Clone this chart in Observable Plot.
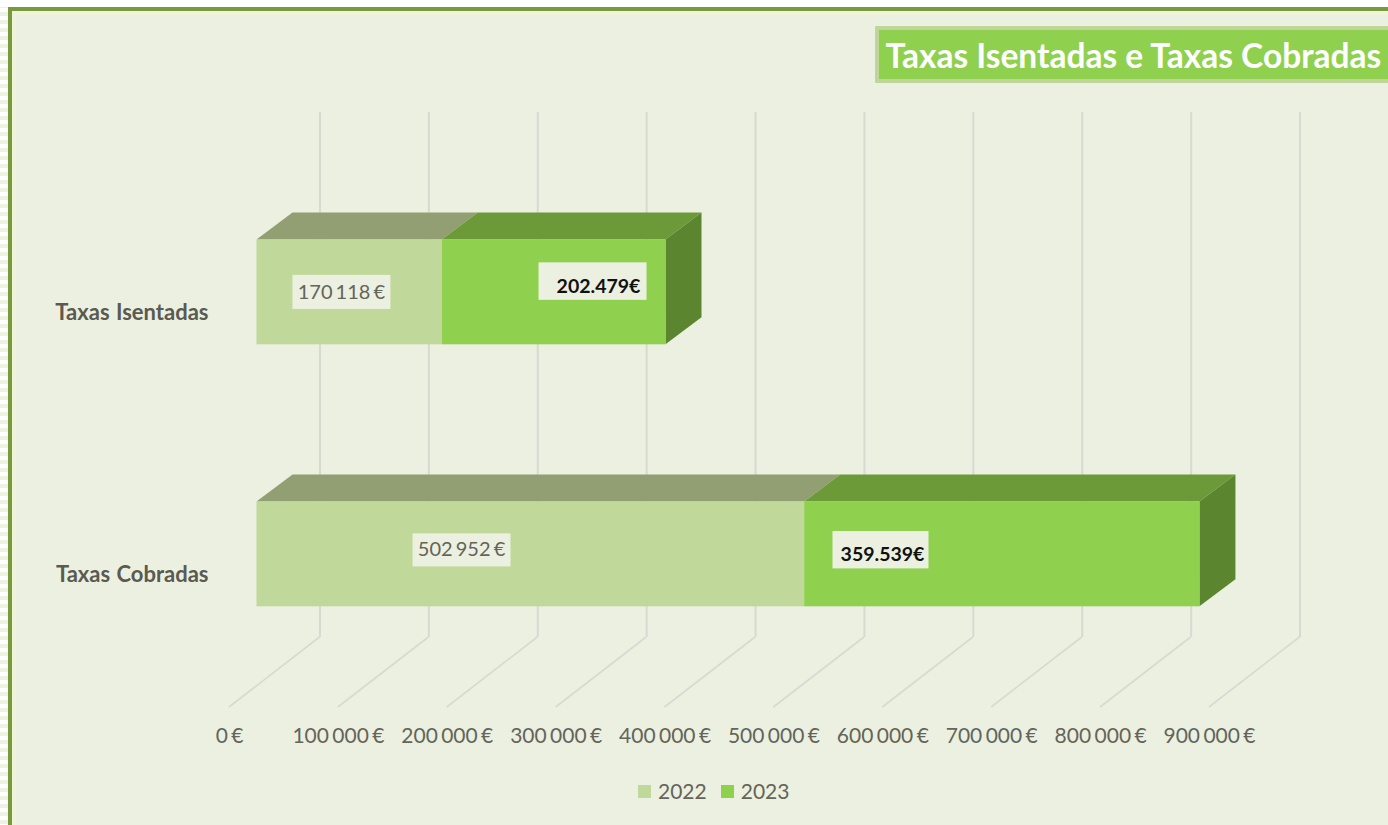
<!DOCTYPE html>
<html lang="pt">
<head>
<meta charset="utf-8">
<script src="https://cdn.jsdelivr.net/npm/d3@7"></script>
<script src="https://cdn.jsdelivr.net/npm/@observablehq/plot@0.6"></script>
<style>
  html, body { margin: 0; padding: 0; width: 1388px; height: 825px; overflow: hidden; background: #fff; }
  #page { position: relative; width: 1388px; height: 825px; overflow: hidden; font-family: Lato, "Noto Sans", sans-serif;
          background: repeating-linear-gradient(to bottom, #fff 0 4px, #eef2e2 4px 8px); }
  #panel { position: absolute; left: 8px; top: 7px; right: 0; bottom: 0; box-sizing: border-box; background: #ebf0e0;
           border-left: 4px solid #789a3c; border-top: 4px solid #789a3c; box-shadow: inset 4px 4px 0 #eef3d9; }
  #toppad { position: absolute; left: 0; top: 0; right: 0; height: 7px; background: #fff; }
  #chart { position: absolute; left: 0; top: 0; }
  #chart svg text { word-spacing: -2px; }
  #chart svg [aria-label="y-axis tick label"] text { word-spacing: 1px; }
  #title { position: absolute; left: 875px; top: 26px; width: 513px; height: 57px; box-sizing: border-box; margin: 0;
           background: #8fd14f; border: 4.5px solid #bfd59a; border-right: none; border-radius: 2px 0 0 2px; color: #fff; font: 700 33.5px Lato, sans-serif;
           line-height: 50px; padding-left: 6.5px; white-space: nowrap; }
  #legend { position: absolute; left: 638px; top: 777px; display: flex; align-items: center; font: 400 21px Lato, sans-serif; color: #64645a; height: 26px; }
  #legend i { display: inline-block; width: 13px; height: 13px; margin-right: 7px; position: relative; top: 1px; }
  #legend span { display: inline-flex; align-items: center; margin-right: 14px; }
</style>
</head>
<body>
<div id="page">
  <div id="toppad"></div>
  <div id="panel"></div>
  <div id="chart"></div>
  <h1 id="title">Taxas Isentadas e Taxas Cobradas</h1>
  <div id="legend"></div>
</div>
<script>
const categories = ["Taxas Isentadas", "Taxas Cobradas"];
const years = ["2022", "2023"];
const values2022 = [170118, 502952];
const values2023 = [205500, 363000];
const labels2022 = ["170 118 €", "502 952 €"];
const labels2023 = ["202.479€", "359.539€"];
const axisTicks = [0, 100000, 200000, 300000, 400000, 500000, 600000, 700000, 800000, 900000];

const frontColors = {"2022": "#c1d89b", "2023": "#8fd14f"};
const topColors = {"2022": "#919f72", "2023": "#6c9a38"};
const sideColor = "#5c852f";
const gridColor = "#d8dad2";
const textColor = "#64645a";

const rows = years.flatMap((year, s) =>
  categories.map((category, c) => ({category, year, value: (s ? values2023 : values2022)[c]})));

// 3D look: depth of a bar, and of the chart's floor, in pixels
const barDepth = [36, -27];
const floorDepth = [90.5, -70];
const barShift = 27.5;
const NS = "http://www.w3.org/2000/svg";

function path(d, fill) {
  const p = document.createElementNS(NS, "path");
  p.setAttribute("d", d);
  p.setAttribute("fill", fill);
  return p;
}

function barFaces(index, scales, values, dims, ctx, next) {
  const g = next(index, scales, values, dims, ctx);
  const first = g.firstChild;
  const h = +g.querySelector("rect").getAttribute("height");
  const [dx, dy] = barDepth;
  for (const i of index) {
    const x1 = values.x1[i], x2 = values.x2[i], y = values.y[i];
    g.insertBefore(path(`M${x1},${y}L${x1 + dx},${y + dy}H${x2 + dx}L${x2},${y}Z`, topColors[rows[i].year]), first);
    if (rows[i].year === "2023")
      g.insertBefore(path(`M${x2},${y}L${x2 + dx},${y + dy}V${y + dy + h}L${x2},${y + h}Z`, sideColor), first);
  }
  return g;
}

function floorLines(index, scales, values, dims) {
  const g = document.createElementNS(NS, "g");
  const bottom = dims.height - dims.marginBottom;
  for (const i of index) {
    const x = values.x[i];
    const p = path(`M${x},${bottom - floorDepth[1]}L${x + floorDepth[0]},${bottom}`, "none");
    p.setAttribute("stroke", gridColor);
    p.setAttribute("stroke-width", 1.6);
    g.appendChild(p);
  }
  return g;
}

function boxedLabel(catIndex, year, text, bold, dx, dy, box) {
  const i = categories.indexOf(categories[catIndex]);
  const base = year === "2022" ? 0 : values2022[i];
  const v = (year === "2022" ? values2022 : values2023)[i];
  return Plot.text([{category: categories[i], mid: base + v / 2, text}], {
    x: "mid", y: "category", text: "text", dx, dy,
    fontSize: bold ? 19.5 : 20, fontWeight: bold ? 700 : 400, fill: bold ? "#111" : "#64645a",
    fontFamily: "Lato, sans-serif",
    render(index, scales, values, dims, ctx, next) {
      const g = next(index, scales, values, dims, ctx);
      const r = document.createElementNS(NS, "rect");
      const [ox, oy, w, h] = box;
      r.setAttribute("x", values.x[0] + ox - w / 2);
      r.setAttribute("y", values.y[0] + oy - h / 2);
      r.setAttribute("width", w);
      r.setAttribute("height", h);
      r.setAttribute("fill", "#ebf0e0");
      g.insertBefore(r, g.firstChild);
      return g;
    }
  });
}

const chart = Plot.plot({
  width: 1388,
  height: 825,
  marginTop: 112,
  marginBottom: 188,
  marginLeft: 218,
  marginRight: 0,
  style: {background: "transparent", fontFamily: "Lato, sans-serif", overflow: "hidden"},
  x: {domain: [0, 900000], range: [229, 1209]},
  y: {domain: categories, range: [82.3, 763.5], padding: 0.6, round: false, label: null},
  color: {domain: years, range: years.map(y => frontColors[y])},
  marks: [
    Plot.ruleX(axisTicks, {x: d => d, dx: floorDepth[0], stroke: gridColor, strokeWidth: 2}),
    Plot.ruleX(axisTicks, {x: d => d, render: floorLines}),
    Plot.barX(rows, {x: "value", y: "category", fill: "year", dx: barShift, render: barFaces}),
    boxedLabel(0, "2022", labels2022[0], false, 19.3, 0, [0, -0.5, 98, 34]),
    boxedLabel(1, "2022", labels2022[1], false, -41.8, -4.5, [0, 0, 98, 33]),
    boxedLabel(0, "2023", labels2023[0], true, 71.9, -6, [-6, -5.3, 108, 37.5]),
    boxedLabel(1, "2023", labels2023[1], true, -92.3, 0.5, [-2, -5.2, 96, 37.4]),
    Plot.axisX({
      anchor: "bottom", ticks: axisTicks, tickSize: 0, tickPadding: 99, label: null,
      tickFormat: d => d3.format(",")(d).replace(/,/g, " ") + " €",
      fontSize: 21, fill: textColor, fontFamily: "Lato, sans-serif", lineAnchor: "middle"
    }),
    Plot.axisY({
      anchor: "left", tickSize: 0, tickPadding: 10, label: null, dy: 21,
      fontSize: 22, fontWeight: 700, fill: "#5a5a50", fontFamily: "Lato, sans-serif"
    })
  ]
});
document.getElementById("chart").appendChild(chart);

const legend = document.getElementById("legend");
for (const y of years) {
  const s = document.createElement("span");
  const i = document.createElement("i");
  i.style.background = frontColors[y];
  s.appendChild(i);
  s.appendChild(document.createTextNode(y));
  legend.appendChild(s);
}
</script>
</body>
</html>
